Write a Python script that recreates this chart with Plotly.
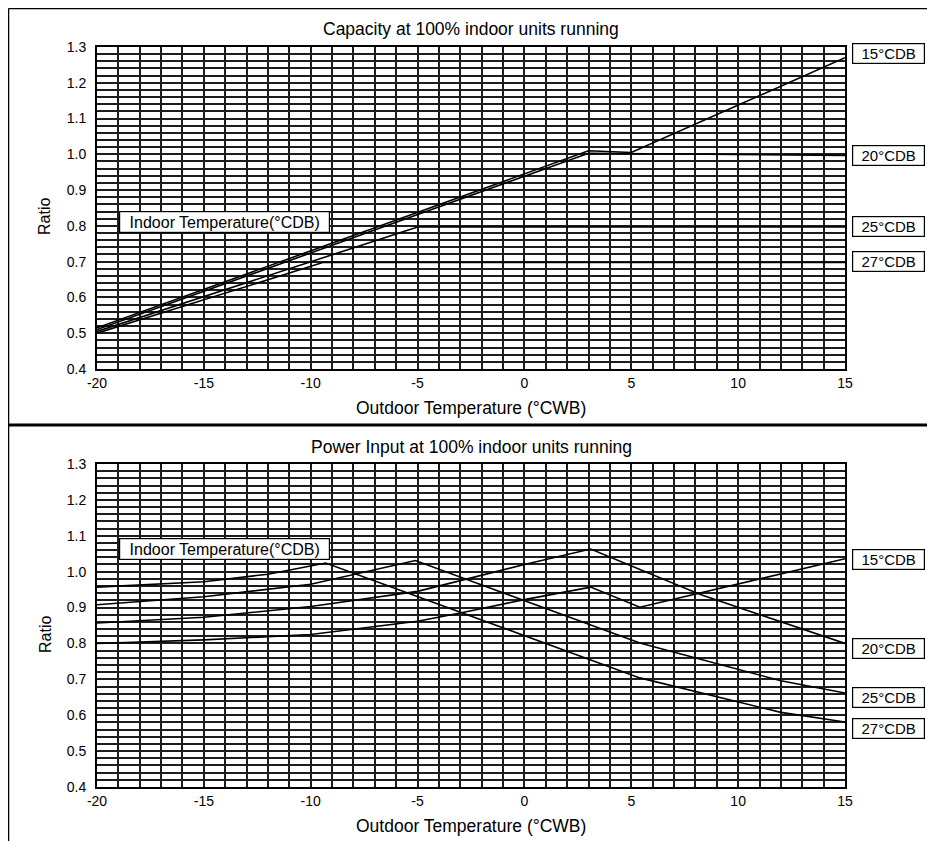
import plotly.graph_objects as go

# ---------------- data ----------------
series_names = ["15°CDB", "20°CDB", "25°CDB", "27°CDB"]

# Capacity (top chart)
cap_x_15 = [-20, 3, 5, 15]
cap_y_15 = [0.515, 1.010, 1.005, 1.270]
cap_x_20 = [-20, 3, 15]
cap_y_20 = [0.510, 1.003, 0.997]
cap_x_25 = [-20, -5, 15]
cap_y_25 = [0.505, 0.797, 0.797]
cap_x_27 = [-20, -9.4, 15]
cap_y_27 = [0.500, 0.698, 0.698]

# Power input (bottom chart)
pow_x_15 = [-20, -15, -10, -5, -3, 0, 3.1, 5.4, 15]
pow_y_15 = [0.800, 0.810, 0.825, 0.862, 0.885, 0.922, 0.957, 0.901, 1.036]
pow_x_20 = [-20, -15, -10, -5, 0, 3.1, 8.2, 15]
pow_y_20 = [0.857, 0.873, 0.903, 0.945, 1.020, 1.063, 0.937, 0.800]
pow_x_25 = [-20, -15, -10, -5.1, 5.4, 12, 15]
pow_y_25 = [0.908, 0.930, 0.965, 1.031, 0.801, 0.696, 0.662]
pow_x_27 = [-20, -15, -12, -9.3, 5.4, 12, 15]
pow_y_27 = [0.957, 0.972, 0.993, 1.024, 0.704, 0.608, 0.581]

x_ticks = [-20, -15, -10, -5, 0, 5, 10, 15]
x_tick_text = ["-20", "-15", "-10", "-5", "0", "5", "10", "15"]
y_ticks = [0.4, 0.5, 0.6, 0.7, 0.8, 0.9, 1.0, 1.1, 1.2, 1.3]

# label box positions (ratio values)
cap_label_y = [1.283, 0.996, 0.798, 0.700]
pow_label_y = [1.035, 0.786, 0.650, 0.563]

FONT = "Liberation Sans, Arial, sans-serif"
LINE = dict(color="black", width=1.6)
GRID = "#1c1c1c"

fig = go.Figure()

for xs, ys, nm in [(cap_x_15, cap_y_15, series_names[0]), (cap_x_20, cap_y_20, series_names[1]),
                   (cap_x_25, cap_y_25, series_names[2]), (cap_x_27, cap_y_27, series_names[3])]:
    fig.add_trace(go.Scatter(x=xs, y=ys, mode="lines", line=LINE, name=nm,
                             xaxis="x", yaxis="y", showlegend=False))
for xs, ys, nm in [(pow_x_15, pow_y_15, series_names[0]), (pow_x_20, pow_y_20, series_names[1]),
                   (pow_x_25, pow_y_25, series_names[2]), (pow_x_27, pow_y_27, series_names[3])]:
    fig.add_trace(go.Scatter(x=xs, y=ys, mode="lines", line=LINE, name=nm,
                             xaxis="x2", yaxis="y2", showlegend=False))

def xax(anchor):
    return dict(domain=[0, 1], anchor=anchor, range=[-20, 15], tickvals=x_ticks, ticktext=x_tick_text,
                showgrid=True, gridcolor=GRID, gridwidth=1.6,
                minor=dict(dtick=1, tick0=-20, showgrid=True, gridcolor=GRID, gridwidth=1.6),
                showline=True, mirror=True, linecolor="black", linewidth=1.8,
                zeroline=False, ticks="", tickfont=dict(family=FONT, size=14, color="black"))

def yax(anchor, dom):
    return dict(domain=dom, anchor=anchor, range=[0.4, 1.3], tickvals=y_ticks, tickformat=".1f",
                showgrid=True, gridcolor=GRID, gridwidth=1.6,
                minor=dict(dtick=0.02, tick0=0.4, showgrid=True, gridcolor=GRID, gridwidth=1.6),
                showline=True, mirror=True, linecolor="black", linewidth=1.8,
                zeroline=False, ticks="", ticklabelstandoff=6,
                tickfont=dict(family=FONT, size=14, color="black"))

annotations = []
# titles
for txt, y in [("Capacity at 100% indoor units running", 1.0243),
               ("Power Input at 100% indoor units running", 0.4595)]:
    annotations.append(dict(text=txt, xref="paper", yref="paper", x=0.5, y=y,
                            showarrow=False, xanchor="center", yanchor="middle",
                            font=dict(family=FONT, size=17.5, color="black")))
for y in [0.5122, -0.0527]:
    annotations.append(dict(text="Outdoor Temperature (°CWB)", xref="paper", yref="paper", x=0.5, y=y,
                            showarrow=False, xanchor="center", yanchor="middle",
                            font=dict(family=FONT, size=17.5, color="black")))
for y in [0.7703, 0.2054]:
    annotations.append(dict(text="Ratio", xref="paper", yref="paper", x=-0.0695, y=y, textangle=-90,
                            showarrow=False, xanchor="center", yanchor="middle",
                            font=dict(family=FONT, size=16, color="black")))
# right-side series labels
for yr, labels_y in [("y", cap_label_y), ("y2", pow_label_y)]:
    for nm, ly in zip(series_names, labels_y):
        annotations.append(dict(text=nm, xref="paper", yref=yr, x=1.0094, y=ly,
                                showarrow=False, xanchor="left", yanchor="middle",
                                width=69, height=17, align="center",
                                bgcolor="white", bordercolor="black", borderwidth=1.2, borderpad=1,
                                font=dict(family=FONT, size=15, color="black")))
# indoor temperature boxes
for xr, yr, ly in [("x", "y", 0.812), ("x2", "y2", 1.062)]:
    annotations.append(dict(text="Indoor Temperature(°CDB)", xref=xr, yref=yr, x=-18.98, y=ly,
                            showarrow=False, xanchor="left", yanchor="middle",
                            width=207, height=18, align="center",
                            bgcolor="white", bordercolor="black", borderwidth=1.2, borderpad=1,
                            font=dict(family=FONT, size=16, color="black")))

# frame
XL, XR, YT, YB = -0.1183, 1.1236, 1.052, -0.08
shapes = [
    dict(type="line", xref="paper", yref="paper", x0=XL, x1=XR, y0=YT, y1=YT,
         line=dict(color="black", width=1.5)),
    dict(type="line", xref="paper", yref="paper", x0=XL, x1=XL, y0=YB, y1=YT,
         line=dict(color="black", width=1.5)),
    dict(type="line", xref="paper", yref="paper", x0=XL, x1=XR, y0=0.4892, y1=0.4892,
         line=dict(color="black", width=3)),
]

fig.update_layout(
    width=927, height=833, autosize=False,
    margin=dict(l=89, r=90, t=39, b=54),
    paper_bgcolor="white", plot_bgcolor="white",
    xaxis=xax("y"), yaxis=yax("x", [0.5649, 1.0]),
    xaxis2=xax("y2"), yaxis2=yax("x2", [0.0, 0.4365]),
    annotations=annotations, shapes=shapes,
    font=dict(family=FONT, color="black"),
)

fig.write_html("out.html")
